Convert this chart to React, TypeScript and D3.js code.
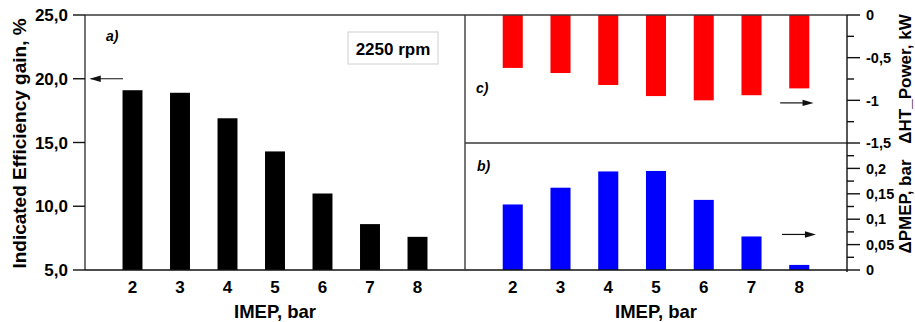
import React from 'react';
import * as d3 from 'd3';

// IMEP categories (bar)
const imep = [2, 3, 4, 5, 6, 7, 8];
// a) Indicated efficiency gain, %
const efficiencyGain = [19.1, 18.9, 16.9, 14.3, 11.0, 8.6, 7.6];
// c) delta HT power, kW
const htPower = [-0.62, -0.68, -0.82, -0.95, -1.0, -0.94, -0.86];
// b) delta PMEP, bar
const pmep = [0.129, 0.162, 0.194, 0.195, 0.138, 0.066, 0.01];

const gainTicks = [5, 10, 15, 20, 25];
const powerTicks = [0, -0.5, -1, -1.5];
const powerMinor = [-0.25, -0.75, -1.25];
const pmepTicks = [0, 0.05, 0.1, 0.15, 0.2];
const pmepMinor = [0.025, 0.075, 0.125, 0.175, 0.225];

const W = 915;
const H = 322;
const FONT = '"Liberation Sans", Arial, sans-serif';
const FRAME = '#3a3a3a';

const comma = (v: number, digits?: number) =>
  (digits === undefined ? String(v) : v.toFixed(digits)).replace('.', ',');

const App: React.FC = () => {
  const top = 15;
  const bottom = 270;
  const mid = 143;
  const leftX0 = 85;
  const leftX1 = 465;
  const rightX1 = 847;

  const xL = d3.scaleLinear().domain([1, 9]).range([leftX0, leftX1]);
  const xR = d3.scaleLinear().domain([1, 9]).range([leftX1, rightX1]);
  const yGain = d3.scaleLinear().domain([5, 25]).range([bottom, top]);
  const yPower = d3.scaleLinear().domain([-1.5, 0]).range([mid, top]);
  const yPmep = d3.scaleLinear().domain([0, 0.25]).range([bottom, mid]);
  const barW = 0.42;

  const arrowHead = (x: number, y: number, dir: 1 | -1) => {
    const len = 11;
    const half = 3.2;
    return `M${x},${y} L${x - dir * len},${y - half} L${x - dir * len},${y + half} Z`;
  };

  return (
    <div style={{ position: 'absolute', left: 0, top: 0 }}>
      <svg width={W} height={H} style={{ display: 'block', background: '#fff' }} fontFamily={FONT}>
        {/* panel a bars */}
        {imep.map((c, i) => (
          <rect
            key={`a${c}`}
            x={xL(c - barW / 2)}
            y={yGain(efficiencyGain[i])}
            width={xL(c + barW / 2) - xL(c - barW / 2)}
            height={yGain(5) - yGain(efficiencyGain[i])}
            fill="#000"
          />
        ))}
        {/* panel c bars */}
        {imep.map((c, i) => (
          <rect
            key={`c${c}`}
            x={xR(c - barW / 2)}
            y={yPower(0)}
            width={xR(c + barW / 2) - xR(c - barW / 2)}
            height={yPower(htPower[i]) - yPower(0)}
            fill="#ff0000"
          />
        ))}
        {/* panel b bars */}
        {imep.map((c, i) => (
          <rect
            key={`b${c}`}
            x={xR(c - barW / 2)}
            y={yPmep(pmep[i])}
            width={xR(c + barW / 2) - xR(c - barW / 2)}
            height={yPmep(0) - yPmep(pmep[i])}
            fill="#0000ff"
          />
        ))}

        {/* frames */}
        <g stroke={FRAME} strokeWidth={1.4} fill="none">
          <line x1={leftX0} x2={leftX0} y1={top} y2={bottom} />
          <line x1={leftX0} x2={rightX1} y1={top} y2={top} />
          <line x1={leftX0} x2={rightX1} y1={bottom} y2={bottom} stroke="#111" />
          <line x1={leftX1} x2={leftX1} y1={top} y2={bottom} />
          <line x1={leftX1} x2={rightX1} y1={mid} y2={mid} />
          <line x1={rightX1} x2={rightX1} y1={top} y2={bottom + 2} stroke="#111" />
        </g>

        {/* left axis */}
        <g fontSize={17} fontWeight="bold" textAnchor="end">
          {gainTicks.map((t) => (
            <g key={t}>
              <line x1={leftX0 - 12} x2={leftX0} y1={yGain(t)} y2={yGain(t)} stroke="#111" strokeWidth={1.4} />
              <text x={leftX0 - 17} y={yGain(t)} dy="0.36em">
                {comma(t, 1)}
              </text>
            </g>
          ))}
        </g>
        <text
          transform={`translate(26,${(top + bottom) / 2 + 1}) rotate(-90)`}
          textAnchor="middle"
          fontSize={19}
          fontWeight="bold"
        >
          Indicated Efficiency gain, %
        </text>

        {/* right axis: power */}
        <g fontSize={14.5} fontWeight="bold">
          {powerTicks.map((t) => (
            <g key={`p${t}`}>
              <line x1={rightX1} x2={rightX1 + 13} y1={yPower(t)} y2={yPower(t)} stroke="#111" strokeWidth={1.4} />
              <text x={rightX1 + 19} y={yPower(t)} dy="0.36em">
                {comma(t)}
              </text>
            </g>
          ))}
          {powerMinor.map((t) => (
            <line key={`pm${t}`} x1={rightX1} x2={rightX1 + 7} y1={yPower(t)} y2={yPower(t)} stroke="#111" strokeWidth={1.4} />
          ))}
          {pmepTicks.map((t) => (
            <g key={`m${t}`}>
              <line x1={rightX1} x2={rightX1 + 13} y1={yPmep(t)} y2={yPmep(t)} stroke="#111" strokeWidth={1.4} />
              <text x={rightX1 + 19} y={yPmep(t)} dy="0.36em">
                {comma(t)}
              </text>
            </g>
          ))}
          {pmepMinor.map((t) => (
            <line key={`mm${t}`} x1={rightX1} x2={rightX1 + 7} y1={yPmep(t)} y2={yPmep(t)} stroke="#111" strokeWidth={1.4} />
          ))}
        </g>
        <text
          transform={`translate(911,${(top + mid) / 2}) rotate(-90)`}
          textAnchor="middle"
          fontSize={17}
          fontWeight="bold"
        >
          ΔHT_Power, kW
        </text>
        <text
          transform={`translate(911,${(mid + bottom) / 2}) rotate(-90)`}
          textAnchor="middle"
          fontSize={17}
          fontWeight="bold"
        >
          ΔPMEP, bar
        </text>

        {/* x tick labels */}
        <g fontSize={17} fontWeight="bold" textAnchor="middle">
          {imep.map((c) => (
            <text key={`xl${c}`} x={xL(c)} y={293}>
              {c}
            </text>
          ))}
          {imep.map((c) => (
            <text key={`xr${c}`} x={xR(c)} y={293}>
              {c}
            </text>
          ))}
        </g>
        <g fontSize={18.5} fontWeight="bold" textAnchor="middle">
          <text x={(leftX0 + leftX1) / 2} y={318}>IMEP, bar</text>
          <text x={(leftX1 + rightX1) / 2} y={318}>IMEP, bar</text>
        </g>

        {/* panel labels */}
        <g fontSize={14} fontWeight="bold" fontStyle="italic">
          <text x={106} y={41}>a)</text>
          <text x={476} y={93}>c)</text>
          <text x={477} y={171}>b)</text>
        </g>

        {/* speed box */}
        <rect x={348} y={32} width={90} height={32} fill="#fff" stroke="#d0d0d0" strokeWidth={1} />
        <text x={393} y={55} textAnchor="middle" fontSize={17} fontWeight="bold">
          2250 rpm
        </text>

        {/* axis arrows */}
        <g stroke="#111" strokeWidth={1.2}>
          <line x1={xL(1.8)} x2={xL(1.12)} y1={yGain(20)} y2={yGain(20)} />
          <line x1={xR(7.6)} x2={xR(8.2)} y1={yPower(-1.03)} y2={yPower(-1.03)} />
          <line x1={xR(7.64)} x2={xR(8.25)} y1={yPmep(0.07)} y2={yPmep(0.07)} />
        </g>
        <g fill="#111">
          <path d={arrowHead(xL(1.1), yGain(20), -1)} />
          <path d={arrowHead(xR(8.3), yPower(-1.03), 1)} />
          <path d={arrowHead(xR(8.35), yPmep(0.07), 1)} />
        </g>
      </svg>
    </div>
  );
};

export default App;
